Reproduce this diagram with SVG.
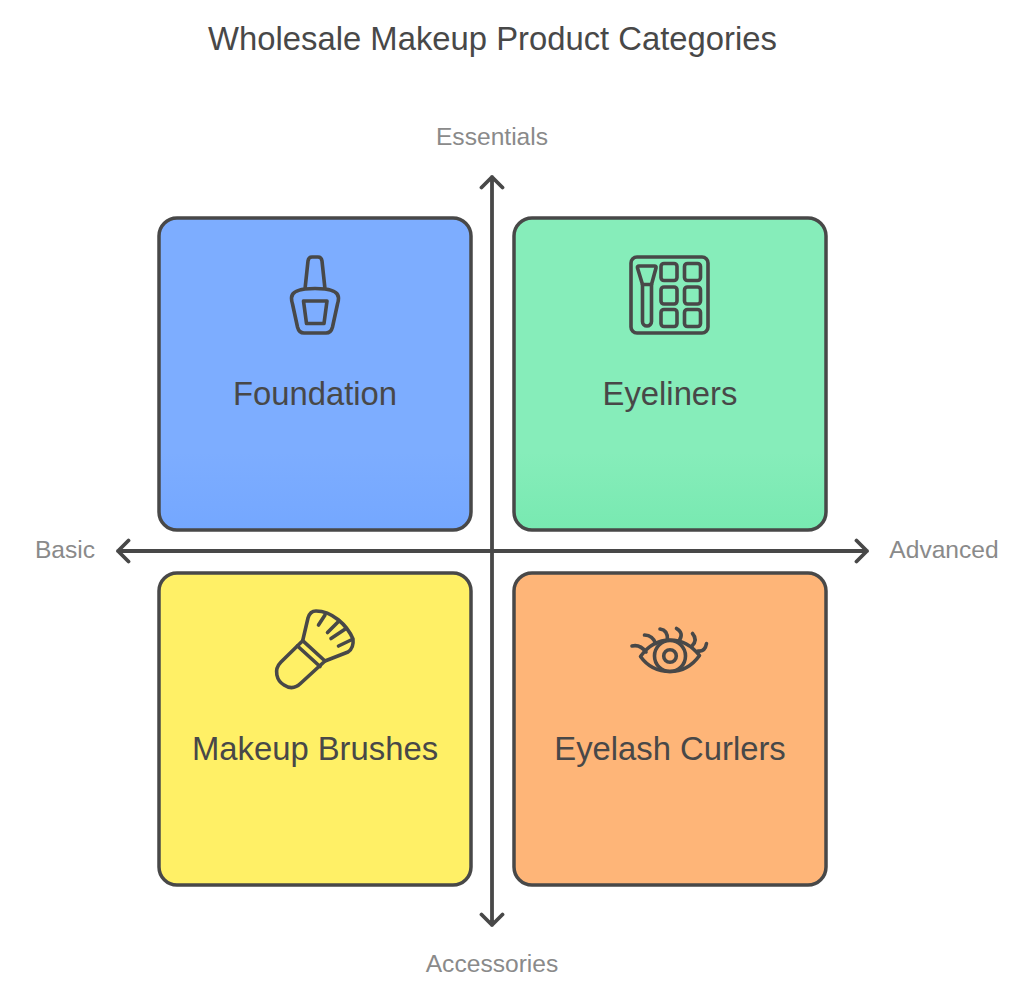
<svg xmlns="http://www.w3.org/2000/svg" width="1024" height="1005" viewBox="0 0 1024 1005">
<style>
text{font-family:"Liberation Sans",Arial,sans-serif;text-anchor:middle}
.t{font-size:32.8px;fill:#484848}
.a{font-size:24.6px;fill:#8a8a8a}
.l{font-size:32.8px;fill:#484848}
.b{stroke:#484848;stroke-width:3.5}
.i,.c{fill:none;stroke:#484848;stroke-linecap:round;stroke-linejoin:round}
.i{stroke-width:3.6}
.c{stroke-width:3.8}
</style>
<defs>
<linearGradient id="gb" x1="0" y1="0" x2="0" y2="1"><stop offset="0.75" stop-color="#7dadff"/><stop offset="1" stop-color="#74a7ff"/></linearGradient>
<linearGradient id="gg" x1="0" y1="0" x2="0" y2="1"><stop offset="0.75" stop-color="#86edba"/><stop offset="1" stop-color="#78e9b1"/></linearGradient>
</defs>
<rect width="1024" height="1005" fill="#fff"/>
<text id="title" class="t" x="492.500" y="50">Wholesale Makeup Product Categories</text>
<g id="connectors">
<path class="c" d="M492 177V925M481.500 187.500L492 177L502.500 187.500M481.500 914.500L492 925L502.500 914.500"/>
<path class="c" d="M118 551H867M128.500 540.500L118 551L128.500 561.500M856.500 540.500L867 551L856.500 561.500"/>
</g>
<g id="axis-labels">
<text class="a" x="492" y="144.500">Essentials</text>
<text class="a" x="492" y="971.500">Accessories</text>
<text class="a" x="65" y="558">Basic</text>
<text class="a" x="944" y="558">Advanced</text>
</g>
<g id="foundation">
<rect class="b" x="159" y="218" width="312" height="312" rx="18" fill="url(#gb)"/>
<path class="i" d="M305 289L308 261Q308.500 257 312 257H318Q321.500 257 322 261L325 289M305 289C297 290 291.500 293 291.500 298Q291.500 301 292.500 304L297.500 327Q299 333 304 333H326Q331 333 332.500 327L337.500 304Q338.500 301 338.500 298C338.500 293 333 290 325 289Q315 288 305 289Z"/>
<path class="i" d="M303.500 301H327L324 323.500H306.500Z"/>
<text class="l" x="315" y="404.500">Foundation</text>
</g>
<g id="eyeliners">
<rect class="b" x="514" y="218" width="312" height="312" rx="18" fill="url(#gg)"/>
<rect class="i" x="631" y="257" width="77" height="76" rx="6"/>
<path class="i" d="M639 266H654.500Q656.500 266 656 268L651.500 284.500V321.500A4.500 4.500 0 0 1 642.500 321.500V284.500L637.500 268Q637 266 639 266Z"/>
<path class="i" d="M642.500 284.500H651.500"/>
<rect class="i" x="661" y="263.500" width="16" height="17" rx="3"/>
<rect class="i" x="684.500" y="263.500" width="16" height="17" rx="3"/>
<rect class="i" x="661" y="287" width="16" height="17" rx="3"/>
<rect class="i" x="684.500" y="287" width="16" height="17" rx="3"/>
<rect class="i" x="661" y="309.500" width="16" height="17" rx="3"/>
<rect class="i" x="684.500" y="309.500" width="16" height="17" rx="3"/>
<text class="l" x="670" y="404.500">Eyeliners</text>
</g>
<g id="makeup-brushes">
<rect class="b" x="159" y="573" width="312" height="312" rx="18" fill="#fff066"/>
<path class="i" d="M302.700 640.700L308 618Q310 611 316 611C332 611 347 625 353 639Q354 648 348 652L325 661"/>
<path class="i" d="M302.700 640.700L281 662C273 670 277 681 284 685C290 689 296 688 301 683L325 661Z"/>
<path class="i" d="M297.500 646L320 666.500"/>
<path class="i" d="M318.500 625L325 615M327.500 632.500L339 621M331 638.500L346 628.500M338.500 646L351 640"/>
<text class="l" x="315" y="759.500">Makeup Brushes</text>
</g>
<g id="eyelash-curlers">
<rect class="b" x="514" y="573" width="312" height="312" rx="18" fill="#feb578"/>
<path class="i" d="M640.500 656.500C648 646 658 640 670 640C682 640 692 646 699.500 655.500C692 666 682 671.500 670 671.500C658 671.500 648 667 640.500 656.500Z"/>
<circle class="i" cx="670" cy="656" r="15.500"/>
<circle class="i" cx="670" cy="656" r="6.300"/>
<path class="i" d="M632 646Q640 644 646 652M644.500 635Q653 635.500 655.500 643.500M660 629Q668 630 667.500 640M676.500 628.500Q684 633 679.500 640M692.500 633.500Q698 640 692 646M706.500 643.500Q705 652 698 651"/>
<text class="l" x="670" y="759.500">Eyelash Curlers</text>
</g>
</svg>
